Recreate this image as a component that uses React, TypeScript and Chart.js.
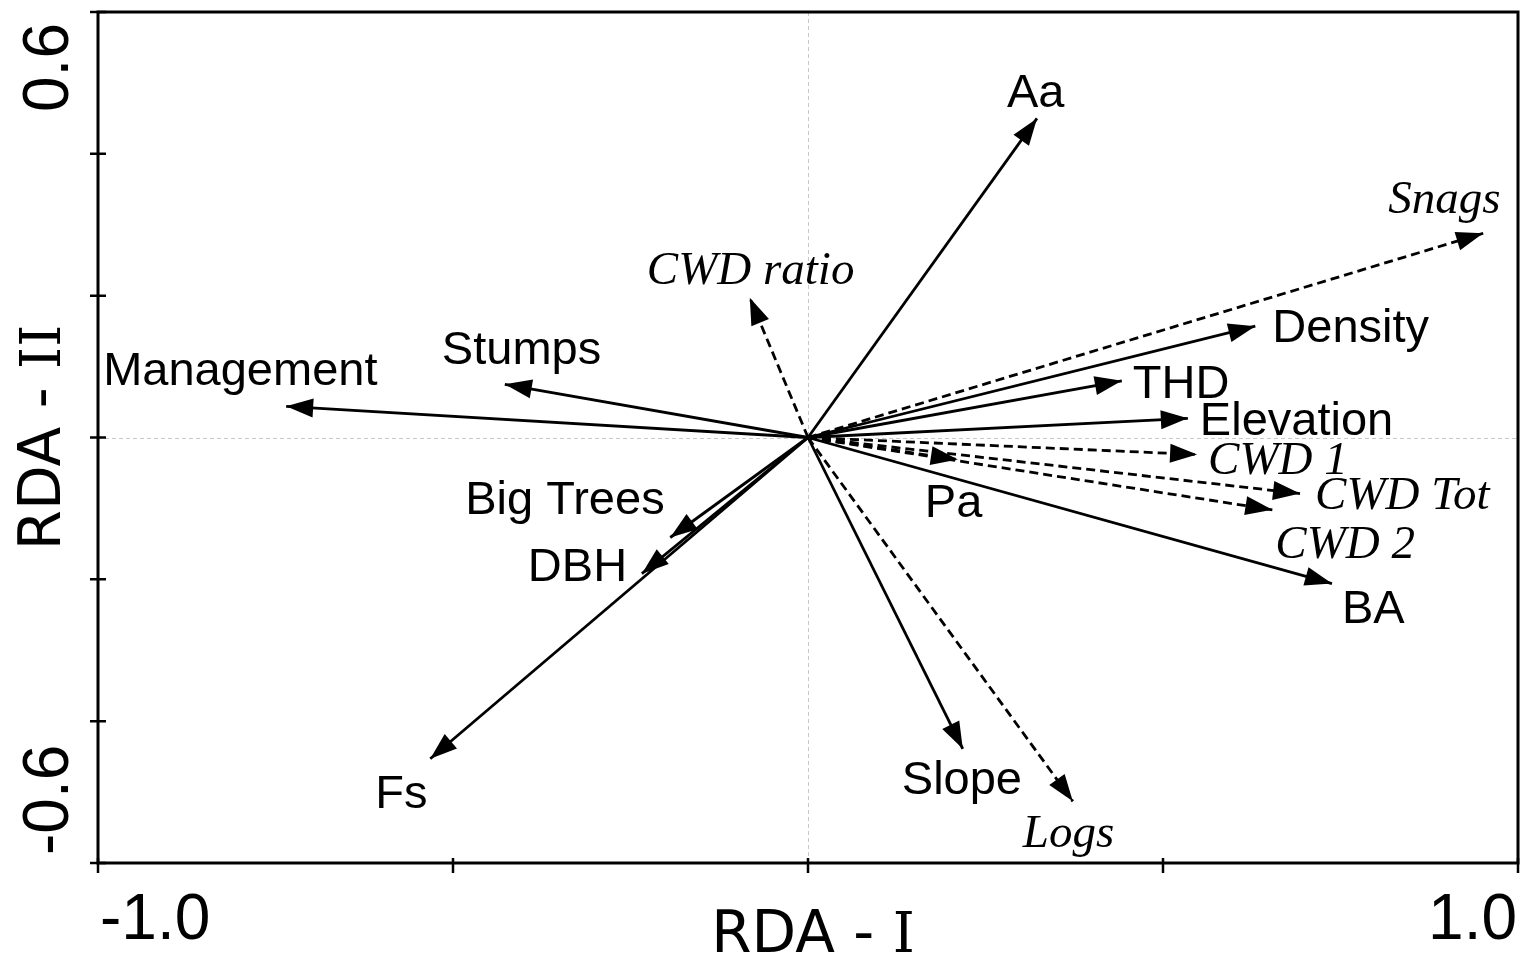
import React, { useEffect, useRef } from "react";
import { Chart, registerables } from "chart.js";

Chart.register(...registerables);

// ---- Data ----
const variables = [
  "Aa", "Snags", "Density", "THD", "Elevation", "CWD 1", "CWD Tot", "CWD 2", "BA",
  "Pa", "Slope", "Logs", "Fs", "DBH", "Big Trees", "Management", "Stumps", "CWD ratio",
];
const rda1 = [
  0.3225, 0.951, 0.630, 0.442, 0.535, 0.548, 0.693, 0.654, 0.738,
  0.211, 0.218, 0.373, -0.532, -0.234, -0.194, -0.735, -0.427, -0.082,
];
const rda2 = [
  0.450, 0.288, 0.157, 0.080, 0.027, -0.024, -0.079, -0.102, -0.206,
  -0.031, -0.439, -0.513, -0.453, -0.192, -0.141, 0.044, 0.075, 0.197,
];
// dashed arrows (supplementary variables)
const isDashed = [
  false, true, false, false, false, true, true, true, false,
  true, false, true, false, false, false, false, false, true,
];
// italic (serif) labels
const isItalic = [
  false, true, false, false, false, true, true, true, false,
  false, false, true, false, false, false, false, false, true,
];
const xTicks = [-1.0, -0.5, 0, 0.5, 1.0];
const yTicks = [-0.6, -0.4, -0.2, 0, 0.2, 0.4, 0.6];
const xTickLabels = ["-1.0", "1.0"];
const yTickLabels = ["-0.6", "0.6"];
const xTitle = "RDA - ";
const yTitle = "RDA - ";
const xTitleRoman = "I";
const yTitleRoman = "II";

// ---- Layout (pixel offsets of labels relative to arrow tips: left edge, baseline) ----
const labelOffsets: Record<string, [number, number]> = {
  "Aa": [-30, -11],
  "Snags": [-95, -20],
  "Density": [17, 16],
  "THD": [11, 17],
  "Elevation": [12, 17],
  "CWD 1": [11, 19],
  "CWD Tot": [15, 15],
  "CWD 2": [3, 48],
  "BA": [10, 39],
  "Pa": [-33, 58],
  "Slope": [-61, 45],
  "Logs": [-50, 46],
  "Fs": [-55, 49],
  "DBH": [-114, 7],
  "Big Trees": [-205, -23],
  "Management": [-183, -21],
  "Stumps": [-63, -20],
  "CWD ratio": [-103, -14],
};

const SANS = "'Liberation Sans', Arial, Helvetica, sans-serif";
const SERIF = "'Liberation Serif', 'Times New Roman', serif";
const VERDANA = "'DejaVu Sans', Verdana, sans-serif";
const ROMAN = "'DejaVu Serif', serif";

const biplotPlugin = {
  id: "biplot",
  beforeDatasetsDraw(chart: any) {
    const ctx = chart.ctx;
    const xs = chart.scales.x;
    const ys = chart.scales.y;
    const a = chart.chartArea;
    ctx.save();
    ctx.strokeStyle = "#c8c8c8";
    ctx.lineWidth = 1;
    ctx.setLineDash([4, 3]);
    const x0 = Math.round(xs.getPixelForValue(0)) + 0.5;
    const y0 = Math.round(ys.getPixelForValue(0)) + 0.5;
    ctx.beginPath();
    ctx.moveTo(x0, a.top);
    ctx.lineTo(x0, a.bottom);
    ctx.moveTo(a.left, y0);
    ctx.lineTo(a.right, y0);
    ctx.stroke();
    ctx.restore();
  },
  afterDatasetsDraw(chart: any) {
    const ctx = chart.ctx;
    const xs = chart.scales.x;
    const ys = chart.scales.y;
    const a = chart.chartArea;
    ctx.save();

    // arrowheads
    ctx.fillStyle = "#000";
    const ox = xs.getPixelForValue(0);
    const oy = ys.getPixelForValue(0);
    for (let i = 0; i < variables.length; i++) {
      const tx = xs.getPixelForValue(rda1[i]);
      const ty = ys.getPixelForValue(rda2[i]);
      const ang = Math.atan2(ty - oy, tx - ox);
      const L = 27;
      const W = 9.5;
      const bx = tx - L * Math.cos(ang);
      const by = ty - L * Math.sin(ang);
      ctx.beginPath();
      ctx.moveTo(tx, ty);
      ctx.lineTo(bx + W * Math.sin(ang), by - W * Math.cos(ang));
      ctx.lineTo(bx - W * Math.sin(ang), by + W * Math.cos(ang));
      ctx.closePath();
      ctx.fill();
    }

    // labels
    ctx.textBaseline = "alphabetic";
    ctx.textAlign = "left";
    for (let i = 0; i < variables.length; i++) {
      const tx = xs.getPixelForValue(rda1[i]);
      const ty = ys.getPixelForValue(rda2[i]);
      const off = labelOffsets[variables[i]] || [8, 0];
      ctx.font = isItalic[i] ? `italic 47px ${SERIF}` : `47px ${SANS}`;
      ctx.fillText(variables[i], tx + off[0], ty + off[1]);
    }

    // frame
    ctx.strokeStyle = "#000";
    ctx.lineWidth = 3;
    ctx.setLineDash([]);
    ctx.strokeRect(a.left, a.top, a.right - a.left, a.bottom - a.top);

    // ticks
    ctx.lineWidth = 2.5;
    ctx.beginPath();
    for (const v of xTicks) {
      const px = xs.getPixelForValue(v);
      ctx.moveTo(px, a.bottom - 5);
      ctx.lineTo(px, a.bottom + 10);
    }
    for (const v of yTicks) {
      const py = ys.getPixelForValue(v);
      ctx.moveTo(a.left - 8, py);
      ctx.lineTo(a.left + 8, py);
    }
    ctx.stroke();

    // tick labels
    ctx.font = `64px ${SANS}`;
    ctx.fillStyle = "#000";
    ctx.textBaseline = "alphabetic";
    ctx.textAlign = "left";
    ctx.fillText(xTickLabels[0], xs.getPixelForValue(-1) + 2, a.bottom + 76);
    ctx.textAlign = "right";
    ctx.fillText(xTickLabels[1], xs.getPixelForValue(1) - 1, a.bottom + 76);

    // rotated y tick labels
    ctx.save();
    ctx.translate(68, ys.getPixelForValue(-0.6) - 8);
    ctx.rotate(-Math.PI / 2);
    ctx.textAlign = "left";
    ctx.fillText(yTickLabels[0], 0, 0);
    ctx.restore();
    ctx.save();
    ctx.translate(68, ys.getPixelForValue(0.6) + 11);
    ctx.rotate(-Math.PI / 2);
    ctx.textAlign = "right";
    ctx.fillText(yTickLabels[1], 0, 0);
    ctx.restore();

    // axis titles (roman numeral drawn with a serifed glyph)
    const drawTitle = (main: string, roman: string) => {
      ctx.font = `58px ${VERDANA}`;
      const w1 = ctx.measureText(main).width;
      ctx.font = `56px ${ROMAN}`;
      const w2 = ctx.measureText(roman).width;
      const total = w1 + w2;
      ctx.textAlign = "left";
      ctx.font = `58px ${VERDANA}`;
      ctx.fillText(main, -total / 2, 0);
      ctx.font = `56px ${ROMAN}`;
      ctx.fillText(roman, -total / 2 + w1, 0);
    };
    ctx.save();
    ctx.translate(xs.getPixelForValue(0) + 5, a.bottom + 89);
    drawTitle(xTitle, xTitleRoman);
    ctx.restore();
    ctx.save();
    ctx.translate(60, ys.getPixelForValue(0));
    ctx.rotate(-Math.PI / 2);
    drawTitle(yTitle, yTitleRoman);
    ctx.restore();

    ctx.restore();
  },
};

export default function App() {
  const ref = useRef<HTMLCanvasElement | null>(null);

  useEffect(() => {
    if (!ref.current) return;
    const datasets = variables.map((name, i) => ({
      label: name,
      data: [
        { x: 0, y: 0 },
        { x: rda1[i], y: rda2[i] },
      ],
      showLine: true,
      borderColor: "#000",
      backgroundColor: "#000",
      borderWidth: 2.8,
      borderDash: isDashed[i] ? [9, 5] : [],
      pointRadius: 0,
      pointHoverRadius: 0,
      fill: false,
    }));
    const chart = new Chart(ref.current, {
      type: "scatter",
      data: { datasets },
      options: {
        responsive: false,
        animation: false,
        events: [],
        layout: { padding: { left: 98, right: 9, top: 12, bottom: 109 } },
        plugins: {
          legend: { display: false },
          tooltip: { enabled: false },
        },
        scales: {
          x: { type: "linear", min: -1, max: 1, display: false },
          y: { type: "linear", min: -0.6, max: 0.6, display: false },
        },
      },
      plugins: [biplotPlugin],
    });
    return () => chart.destroy();
  }, []);

  return (
    <div style={{ position: "fixed", left: 0, top: 0, width: 1527, height: 972, background: "#fff" }}>
      <canvas ref={ref} width={1527} height={972} style={{ display: "block" }} />
    </div>
  );
}
